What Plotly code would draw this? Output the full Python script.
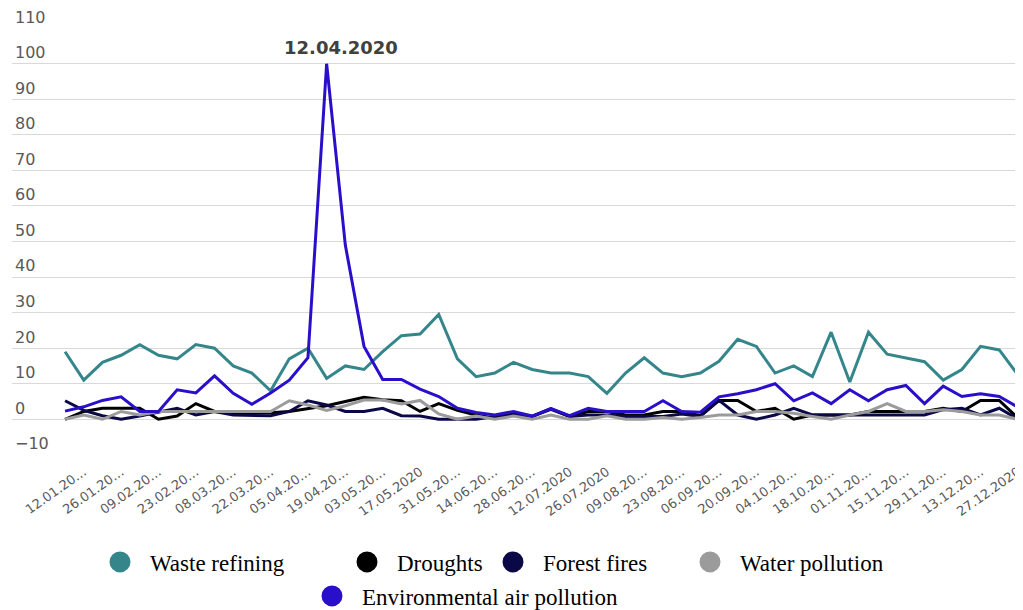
import plotly.graph_objects as go
import pandas as pd

weeks = list(pd.date_range("2020-01-05", periods=52, freq="7D").strftime("%d.%m.%Y"))
tick_labels = ["12.01.20…", "26.01.20…", "09.02.20…", "23.02.20…", "08.03.20…",
               "22.03.20…", "05.04.20…", "19.04.20…", "03.05.20…", "17.05.2020",
               "31.05.20…", "14.06.20…", "28.06.20…", "12.07.2020", "26.07.2020",
               "09.08.20…", "23.08.20…", "06.09.20…", "20.09.20…", "04.10.20…",
               "18.10.20…", "01.11.20…", "15.11.20…", "29.11.20…", "13.12.20…",
               "27.12.2020"]
y_ticks = [-10, 0, 10, 20, 30, 40, 50, 60, 70, 80, 90, 100, 110]

waste_refining = [19, 11, 16, 18, 21, 18, 17, 21, 20, 15, 13, 8, 17, 20, 11.5, 15, 14, 19,
                  23.5, 24, 29.5, 17, 12, 13, 16, 14, 13, 13, 12, 7.3, 13, 17.3, 13, 12, 13,
                  16.3, 22.5, 20.5, 13, 15, 12, 24.5, 10.5, 24.5, 18.3, 17.3, 16.2, 11, 14,
                  20.5, 19.5, 12.5]
droughts = [0, 2.2, 3.1, 3.1, 3.1, 0, 0.9, 4.4, 2.2, 1.8, 1.8, 1.8, 2.2, 3, 3.8, 5, 6.2,
            5.5, 5.2, 2.2, 4.4, 2.5, 1.2, 0.3, 1.7, 0.8, 3, 0.8, 2.2, 2.2, 1.2, 1.2, 2.2,
            2.2, 1, 5.3, 5.3, 2.2, 3.1, 0, 1.2, 1.2, 1.2, 2.2, 2.2, 2.2, 2.2, 3.1, 2.2,
            5.3, 5.3, 0.3]
forest_fires = [5.2, 2.5, 1, 0, 0.9, 2, 3.1, 1.2, 2.2, 1.2, 1, 1, 2.2, 5.2, 4, 2.2, 2.2,
                3.1, 1, 0.9, 0, 0, 0, 0.8, 1.2, 0.8, 2.8, 0.8, 1.2, 1.2, 0.8, 0.8, 0.8,
                1.5, 0.8, 5.3, 1.2, 0, 1.2, 3.1, 1.2, 1.2, 1.2, 1.2, 1.2, 1.2, 1.2, 2.7,
                3.1, 1.2, 3.1, 0]
water_pollution = [0, 1.2, 0, 2.2, 1.2, 2.2, 2.2, 2.2, 2.2, 2.2, 2.2, 2.2, 5.2, 4, 2.5,
                   3.8, 5.4, 5.4, 4.3, 5.3, 1.5, 0, 0.9, 0, 0.9, 0, 1.2, 0, 0, 1, 0, 0,
                   0.5, 0, 0.5, 1.2, 1.2, 2.2, 2.2, 1.7, 0.8, 0, 1.2, 2.2, 4.4, 2.2, 2.2,
                   2.7, 2.2, 1.2, 1.2, 0]
air_pollution = [2.3, 3.5, 5.3, 6.3, 2.2, 2.2, 8.3, 7.4, 12.2, 7.3, 4.2, 7.4, 11, 17.3,
                 100, 49, 20.5, 11.2, 11.2, 8.5, 6.4, 3.1, 1.9, 1.2, 2.2, 0.9, 3, 1, 3.1,
                 2.2, 2.2, 2.2, 5.2, 2.2, 2, 6.3, 7.2, 8.3, 10, 5.2, 7.4, 4.4, 8.3, 5.2,
                 8.3, 9.5, 4.4, 9.3, 6.4, 7.2, 6.4, 3.4]

# legend symbol centres in page pixels
series = [
    ("Waste refining", waste_refining, "#35868B", 120, 562),
    ("Droughts", droughts, "#000000", 367, 562),
    ("Forest fires", forest_fires, "#0B0848", 513, 562),
    ("Water pollution", water_pollution, "#9B9B9B", 710, 562),
    ("Environmental air pollution", air_pollution, "#2A0FCA", 332, 596),
]

OFF = 8  # default page body margin
W, H = 1023 - OFF, 610 - OFF
fig = go.Figure()
layout_legends = {}
for k, (name, vals, color, cx, cy) in enumerate(series):
    fig.add_trace(go.Scatter(x=weeks, y=vals, mode="lines", name=name,
                             line=dict(color=color, width=3), showlegend=False))
    lg = "legend" if k == 0 else f"legend{k + 1}"
    fig.add_trace(go.Scatter(x=[None], y=[None], mode="markers", name=name, legend=lg,
                             marker=dict(size=16, color=color,
                                         line=dict(color=color, width=5))))
    layout_legends[lg] = dict(
        xref="container", yref="container", x=(cx - OFF - 30) / W, y=1 - (cy - OFF) / H,
        xanchor="left", yanchor="middle", orientation="h", itemwidth=50,
        bgcolor="rgba(0,0,0,0)", borderwidth=0,
        font=dict(family="Liberation Serif", size=23, color="#000000"),
    )

fig.add_annotation(x=weeks[14], y=100, text="<b>12.04.2020</b>", showarrow=False,
                   yanchor="bottom", yshift=4, xshift=14,
                   font=dict(family="DejaVu Sans", size=18, color="#404040"))

fig.update_layout(
    width=W, height=H,
    margin=dict(l=12 - OFF, r=3, t=28 - OFF, b=155, autoexpand=False),
    plot_bgcolor="white", paper_bgcolor="white",
    **layout_legends,
)
fig.update_xaxes(type="category", range=[-2.84, 51.11], showgrid=False, zeroline=False,
                 showline=False, ticks="", tickvals=weeks[1::2], ticktext=tick_labels,
                 tickangle=-35, ticklabelstandoff=6,
                 tickfont=dict(family="DejaVu Sans", size=13, color="#595959"))
fig.update_yaxes(range=[-10.05, 110.05], tickvals=y_ticks, showgrid=True,
                 gridcolor="#D9D9D9", gridwidth=1, zeroline=False, showline=False,
                 ticks="", ticklabelposition="inside top", ticklabeloverflow="allow",
                 tickfont=dict(family="DejaVu Sans", size=16, color="#595959"))

fig.write_html("out.html")
